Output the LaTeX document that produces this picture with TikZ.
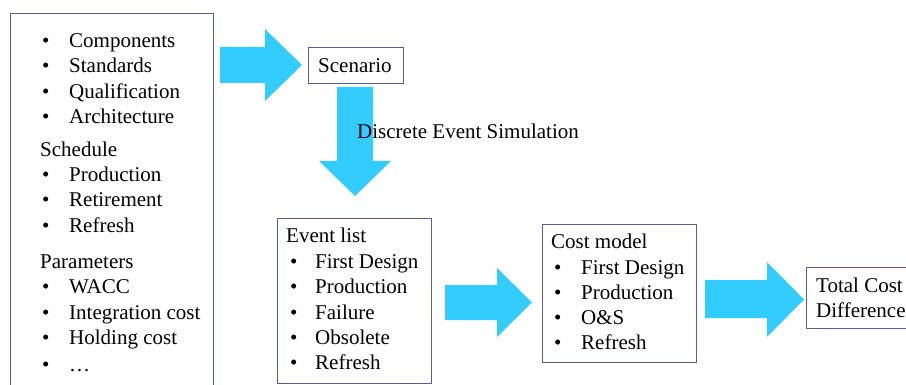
\documentclass[tikz,border=0pt]{standalone}
\usepackage{fontspec}
\setmainfont{Liberation Serif}
\definecolor{boxline}{RGB}{88,88,172}
\definecolor{flow}{RGB}{51,204,255}
\begin{document}
\begin{tikzpicture}[x=1pt,y=-1pt,
  box/.style={draw=boxline,line width=1pt,inner sep=0pt,anchor=north west},
  txt/.style={inner sep=0pt,anchor=base west,font=\fontsize{21}{25}\selectfont},
  flowarrow/.style={fill=flow,draw=none}]
\useasboundingbox (0,0) rectangle (906,385);
\clip (0,0) rectangle (906,385);
\fill[white] (0,0) rectangle (906,385);

% frames
\node[box,minimum width=203pt,minimum height=400pt] (inputs) at (10,13) {};
\node[box,minimum width=95pt,minimum height=36pt] (scenario) at (308,47) {};
\node[box,minimum width=154pt,minimum height=165pt] (events) at (277,218) {};
\node[box,minimum width=154pt,minimum height=138pt] (cost) at (542,224) {};
\node[box,minimum width=150pt,minimum height=61pt] (total) at (806,267) {};

% block arrows
\fill[flowarrow] (220,47) -- (265,47) -- (265,29) -- (302,65) -- (265,101)
  -- (265,83) -- (220,83) -- cycle;
\fill[flowarrow] (337,87) -- (373,87) -- (373,161) -- (391,161) -- (355,196)
  -- (319,161) -- (337,161) -- cycle;
\fill[flowarrow] (445,285) -- (497,285) -- (497,268) -- (532,302.5) -- (497,337)
  -- (497,320) -- (445,320) -- cycle;
\fill[flowarrow] (705,280) -- (767,280) -- (767,262) -- (804,299.5) -- (767,337)
  -- (767,318) -- (705,318) -- cycle;

% input list
\foreach \y/\t [count=\i] in {48/Components,73/Standards,99/Qualification,
    124/Architecture,182/Production,207/Retirement,233/Refresh,
    294/WACC,319/Integration cost,344/Holding cost,371/…} {
  \node[txt] (inb\i) at (42,\y) {•};
  \node[txt] (in\i) at (69,\y) {\t};
}
\node[txt] (schedule) at (40,157) {Schedule};
\node[txt] (parameters) at (40,269) {Parameters};

% scenario
\node[txt] (scenariotxt) at (318,73) {Scenario};
\node[txt] (des) at (357,139) {Discrete Event Simulation};

% event list
\node[txt] (eventtitle) at (286,243) {Event list};
\foreach \y/\t [count=\i] in {269/First Design,294/Production,319/Failure,
    344/Obsolete,369/Refresh} {
  \node[txt] (evb\i) at (290,\y) {•};
  \node[txt] (ev\i) at (315,\y) {\t};
}

% cost model
\node[txt] (costtitle) at (551,248) {Cost model};
\foreach \y/\t [count=\i] in {274/First Design,299/Production,324/O\&S,
    349/Refresh} {
  \node[txt] (cmb\i) at (554,\y) {•};
  \node[txt] (cm\i) at (581,\y) {\t};
}

% result
\node[txt] (total1) at (816,292) {Total Cost};
\node[txt] (total2) at (816,317) {Difference};
\end{tikzpicture}
\end{document}
